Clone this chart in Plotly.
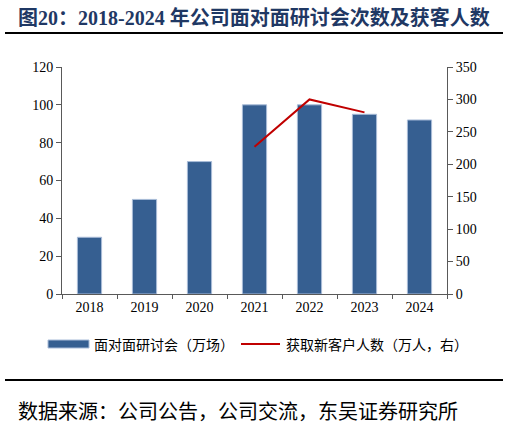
import plotly.graph_objects as go

years = ["2018", "2019", "2020", "2021", "2022", "2023", "2024"]
seminars = [30, 50, 70, 100, 100, 95, 92]          # 万场
new_clients = [None, None, None, 227, 300, 280, None]  # 万人 (right axis)

title_text = "图20：2018-2024 年公司面对面研讨会次数及获客人数"
bar_name = "面对面研讨会（万场）"
line_name = "获取新客户人数（万人，右）"
source_text = "数据来源：公司公告，公司交流，东吴证券研究所"

W, H = 509, 427
L, R, T, B = 62, 447, 67, 294  # plot area pixel bounds
pw, ph = R - L, B - T

def px(x):
    return (x - L) / pw

def py(y):
    return (B - y) / ph

serif = "Liberation Serif, Noto Sans CJK SC"
cjk = "Noto Sans CJK SC, Liberation Serif"
axis_col = "#595959"

fig = go.Figure()
fig.add_trace(go.Bar(
    x=years, y=seminars, name=bar_name,
    marker=dict(color="#365F91", line=dict(color="#A9BCD8", width=1)),
    width=0.44, showlegend=False,
))
fig.add_trace(go.Scatter(
    x=years, y=new_clients, name=line_name, yaxis="y2",
    mode="lines", line=dict(color="#C00000", width=2),
    connectgaps=False, showlegend=False,
))

fig.update_layout(
    width=W, height=H,
    margin=dict(l=L, r=W - R, t=T, b=H - B),
    plot_bgcolor="white", paper_bgcolor="white",
    font=dict(family=serif, size=14, color="#000000"),
    xaxis=dict(
        type="category", showline=True, linecolor=axis_col, linewidth=1,
        ticks="outside", tickson="boundaries", ticklen=4, tickcolor=axis_col,
        showgrid=False, tickfont=dict(family=serif, size=14),
    ),
    yaxis=dict(
        range=[0, 120], dtick=20, showline=True, linecolor=axis_col, linewidth=1,
        ticks="outside", ticklen=5, tickcolor=axis_col, showgrid=False,
        zeroline=False, tickfont=dict(family=serif, size=14),
    ),
    yaxis2=dict(
        range=[0, 350], dtick=50, overlaying="y", side="right",
        showline=True, linecolor=axis_col, linewidth=1,
        ticks="outside", ticklen=5, tickcolor=axis_col, showgrid=False,
        zeroline=False, tickfont=dict(family=serif, size=14),
    ),
    showlegend=False,
)

shapes = [
    # title underline
    dict(type="line", xref="paper", yref="paper", x0=px(5), x1=px(503),
         y0=py(33), y1=py(33), line=dict(color="black", width=2)),
    # bottom separator
    dict(type="line", xref="paper", yref="paper", x0=px(5), x1=px(503),
         y0=py(380), y1=py(380), line=dict(color="black", width=2)),
    # legend swatches
    dict(type="rect", xref="paper", yref="paper", x0=px(48), x1=px(89),
         y0=py(348), y1=py(340), fillcolor="#365F91",
         line=dict(color="#A9BCD8", width=1)),
    dict(type="line", xref="paper", yref="paper", x0=px(241), x1=px(280),
         y0=py(344), y1=py(344), line=dict(color="#C00000", width=2)),
]
fig.update_layout(shapes=shapes)

annotations = [
    dict(text="<b>" + title_text + "</b>", xref="paper", yref="paper",
         x=px(16), y=py(17), xanchor="left", yanchor="middle", showarrow=False,
         font=dict(family=serif, size=20, color="#1F3864")),
    dict(text=bar_name, xref="paper", yref="paper", x=px(92), y=py(344),
         xanchor="left", yanchor="middle", showarrow=False,
         font=dict(family=cjk, size=14, color="#000000")),
    dict(text=line_name, xref="paper", yref="paper", x=px(284), y=py(344),
         xanchor="left", yanchor="middle", showarrow=False,
         font=dict(family=cjk, size=14, color="#000000")),
    dict(text=source_text, xref="paper", yref="paper", x=px(16), y=py(410),
         xanchor="left", yanchor="middle", showarrow=False,
         font=dict(family=cjk, size=20, color="#000000")),
]
fig.update_layout(annotations=annotations)

fig.write_html(
    "out.html",
    config={"displayModeBar": False},
    post_script="document.body.style.margin='0';document.body.style.overflow='hidden';",
)
